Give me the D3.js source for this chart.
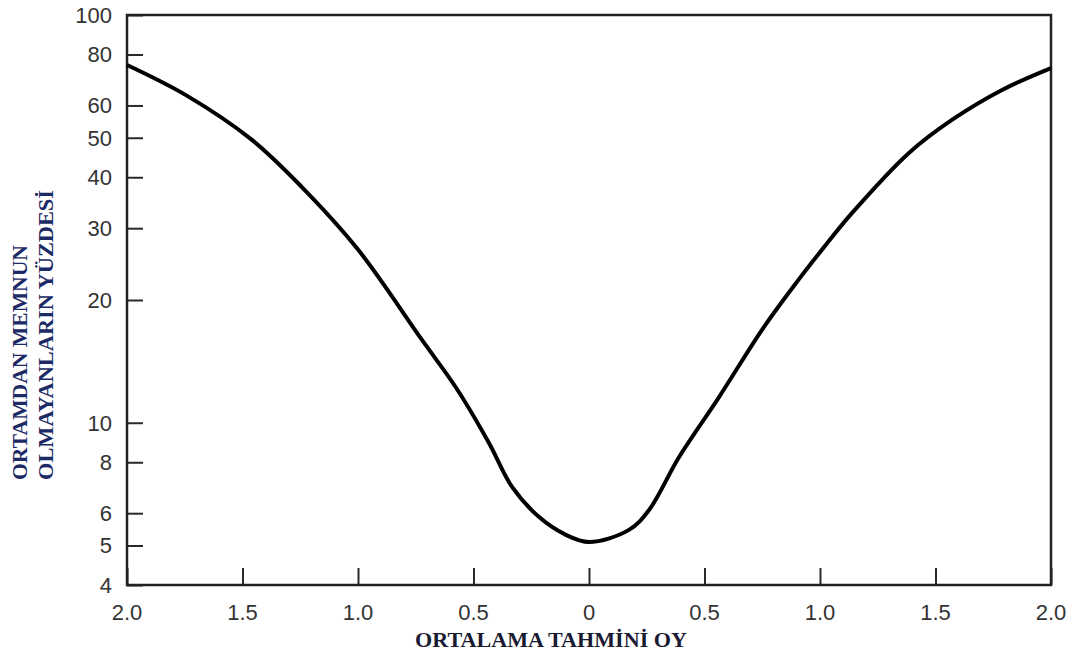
<!DOCTYPE html>
<html><head><meta charset="utf-8">
<script src="https://cdn.jsdelivr.net/npm/d3@7/dist/d3.min.js"></script>
<style>body{margin:0;background:#fff}svg{display:block}</style>
</head><body>
<svg id="c" width="1080" height="662"></svg>
<script>
// Data
const xValues = [-2.0,-1.745,-1.459,-1.242,-1.0,-0.723,-0.576,-0.433,-0.333,-0.216,-0.100,0.0,0.173,0.260,0.390,0.563,0.749,0.896,1.0,1.139,1.385,1.571,1.788,2.0];
const yValues = [75.4,63.6,49.4,37.8,26.6,15.96,12.2,8.92,6.96,5.87,5.31,5.10,5.46,6.11,8.24,11.56,16.9,22.0,26.2,32.7,45.9,55.3,65.5,74.1];
const xTicks = [-2,-1.5,-1,-0.5,0,0.5,1,1.5,2];
const yTicks = [4,5,6,8,10,20,30,40,50,60,80,100];
const yTitle = ["ORTAMDAN MEMNUN","OLMAYANLARIN YÜZDESİ"];
const xTitle = "ORTALAMA TAHMİNİ OY";

const L=127,R=1051,T=15,B=585;
const svg=d3.select("#c");
const x=d3.scaleLinear().domain([-2,2]).range([L,R]);
const y=d3.scaleLog().domain([4,100]).range([B,T]);

// ticks (inside)
const fmtX=d=>Math.abs(d).toFixed(d===0?0:1);
const xAxis=svg.append("g").attr("transform",`translate(0,${B})`)
  .call(d3.axisTop(x).tickValues(xTicks).tickSize(17).tickFormat(""));
const yAxis=svg.append("g").attr("transform",`translate(${L},0)`)
  .call(d3.axisRight(y).tickValues(yTicks).tickSize(16).tickFormat(""));
[xAxis,yAxis].forEach(g=>{g.select(".domain").remove();g.selectAll("line").attr("stroke","#2a2a2a").attr("stroke-width",2);});

// labels
svg.append("g").selectAll("text").data(xTicks).join("text")
  .attr("x",d=>x(d)).attr("y",620).attr("text-anchor","middle")
  .attr("font-family","Liberation Sans, Arial, sans-serif").attr("font-size",22).attr("fill","#333")
  .text(fmtX);
svg.append("g").selectAll("text").data(yTicks).join("text")
  .attr("x",112).attr("y",d=>y(d)).attr("dy","0.36em").attr("text-anchor","end")
  .attr("font-family","Liberation Sans, Arial, sans-serif").attr("font-size",22).attr("fill","#333")
  .text(d=>d);

// frame
svg.append("rect").attr("x",L).attr("y",T).attr("width",R-L).attr("height",B-T)
  .attr("fill","none").attr("stroke","#222").attr("stroke-width",2.5);

// curve
const pts=xValues.map((v,i)=>[v,yValues[i]]);
svg.append("path").datum(pts)
  .attr("d",d3.line().x(d=>x(d[0])).y(d=>y(d[1])).curve(d3.curveCatmullRom.alpha(0.5)))
  .attr("fill","none").attr("stroke","#000").attr("stroke-width",4).attr("stroke-linejoin","round");

// titles
const tl=[235,290], tx=[27,53];
yTitle.forEach((t,i)=>{
  svg.append("text").attr("transform",`translate(${tx[i]},480) rotate(-90)`)
    .attr("text-anchor","start").attr("font-family","Liberation Serif, Times New Roman, serif")
    .attr("font-weight","bold").attr("font-size",20).attr("fill","#1c2a66")
    .attr("textLength",tl[i]).attr("lengthAdjust","spacingAndGlyphs").text(t);
});
svg.append("text").attr("x",551).attr("y",647).attr("text-anchor","middle")
  .attr("font-family","Liberation Serif, Times New Roman, serif").attr("font-weight","bold")
  .attr("font-size",21).attr("fill","#1a1a33")
  .attr("textLength",272).attr("lengthAdjust","spacingAndGlyphs").text(xTitle);
</script>
</body></html>
